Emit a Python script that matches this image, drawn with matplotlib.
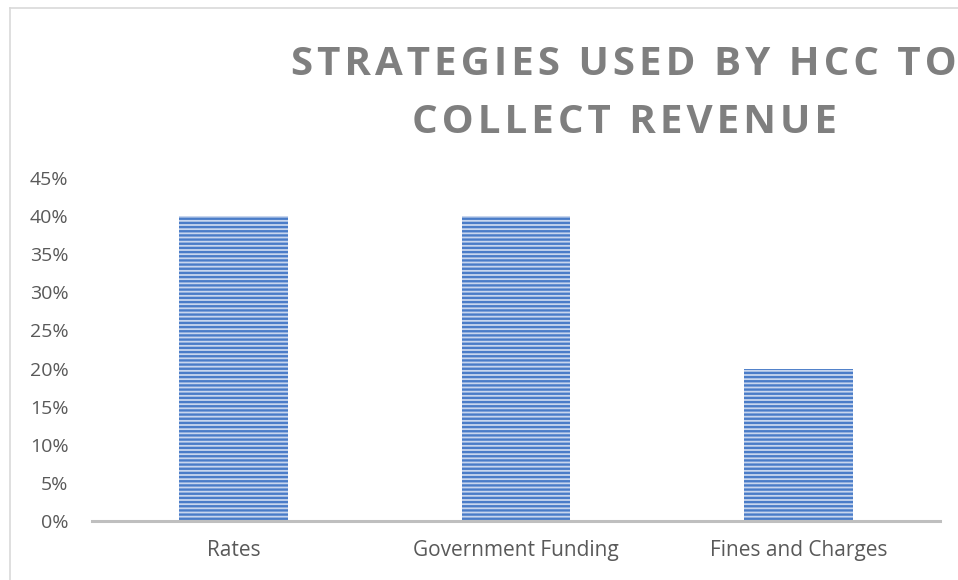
import matplotlib
matplotlib.use('Agg')
import matplotlib.pyplot as plt
from matplotlib.lines import Line2D
from matplotlib.ticker import PercentFormatter

categories = ['Rates', 'Government Funding', 'Fines and Charges']
values = [0.40, 0.40, 0.20]
yticks = [0, 0.05, 0.10, 0.15, 0.20, 0.25, 0.30, 0.35, 0.40, 0.45]
title_lines = ['STRATEGIES USED BY HCC TO', 'COLLECT REVENUE']

plt.rcParams['font.family'] = ['Open Sans', 'DejaVu Sans']
plt.rcParams['hatch.linewidth'] = 1.7

W, H = 958, 580
fig = plt.figure(figsize=(W / 100, H / 100), dpi=100)
ax = fig.add_axes([92 / W, (H - 521) / H, (940 - 92) / W, (521 - 178) / H])

ax.bar(range(len(categories)), values, width=0.385, color='#c8d6ee',
       edgecolor='#4a7cc8', linewidth=0, hatch='----')

ax.set_xlim(-0.5, 2.5)
ax.set_ylim(0, 0.45)
ax.set_yticks(yticks)
ax.yaxis.set_major_formatter(PercentFormatter(1.0, decimals=0))
ax.set_xticks(range(len(categories)))
ax.set_xticklabels(categories)
ax.tick_params(axis='y', length=0, pad=17, labelsize=14, labelcolor='#595959')
ax.tick_params(axis='x', length=0, pad=14, labelsize=15, labelcolor='#595959')

for s in ['top', 'right', 'left']:
    ax.spines[s].set_visible(False)
ax.spines['bottom'].set_color('#bfbfbf')
ax.spines['bottom'].set_linewidth(2.2)

# chart frame (left and top edges)
fig.add_artist(Line2D([10 / W, 10 / W], [0, 1 - 8 / H], color='#d9d9d9', lw=1.2))
fig.add_artist(Line2D([10 / W, 1], [1 - 8 / H, 1 - 8 / H], color='#d9d9d9', lw=1.2))

# title with letter spacing (hair spaces between letters)
sp = '\u200a'
for i, line in enumerate(title_lines):
    spaced = sp.join(line)
    fig.text(624 / W, 1 - (75 + 58 * i) / H, spaced, ha='center', va='baseline',
             fontsize=29, fontweight='bold', color='#7f7f7f')

fig.savefig('out.png', dpi=100)
